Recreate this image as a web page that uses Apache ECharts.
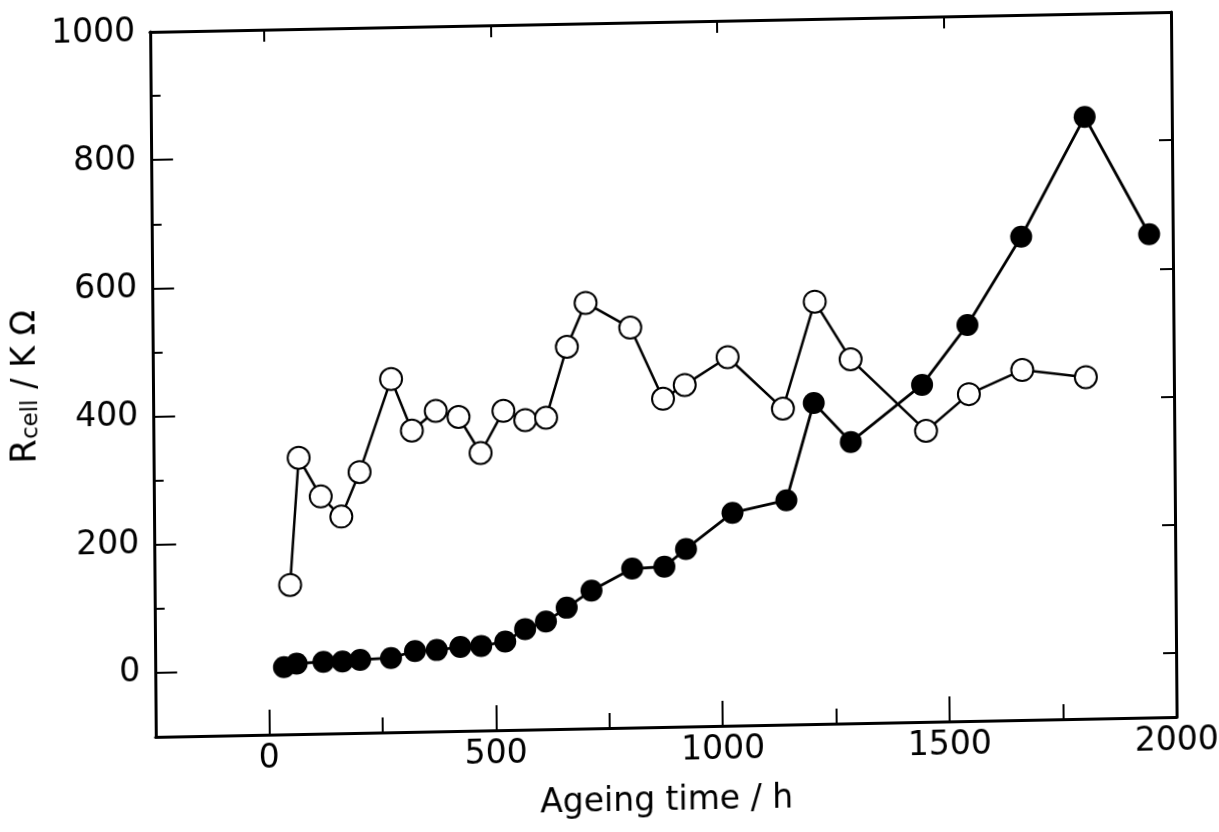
<!DOCTYPE html>
<html>
<head>
<meta charset="utf-8">
<script src="https://cdn.jsdelivr.net/npm/echarts@6/dist/echarts.min.js"></script>
<style>
  html, body { margin: 0; padding: 0; background: #fff; overflow: hidden; }
  /* the scanned figure is slightly skewed: horizontal lines rise ~1.1 deg, vertical lines lean ~0.5 deg */
  #c { width: 1219px; height: 832px; transform: matrix(1, -0.0195, 0.008, 1, 0, 0); transform-origin: 661px 375px; }
</style>
</head>
<body>
<div id="c"></div>
<script>
// Filled circles: ageing time (h) and R_cell (kΩ)
const timeFilled = [34, 62, 121, 163, 202, 270, 323, 371, 423, 469, 522, 566, 612, 658, 713, 803, 874, 922, 1025, 1144, 1206, 1287, 1445, 1546, 1666, 1808, 1948];
const rFilled    = [5, 10, 12, 12, 14, 16, 26, 27, 31, 32, 38, 57, 68, 89, 115, 148, 150, 177, 232, 250, 401, 339, 426, 518, 654, 839, 654];
// Open circles
const timeOpen = [49, 70, 118, 163, 204, 275, 320, 373, 423, 471, 522, 570, 616, 663, 705, 803, 874, 922, 1017, 1138, 1210, 1288, 1453, 1548, 1666, 1806];
const rOpen    = [133, 331, 270, 238, 307, 451, 370, 400, 390, 333, 398, 383, 386, 496, 564, 524, 412, 433, 475, 393, 559, 468, 354, 410, 446, 433];
// Tick labels
const xLabels = [0, 500, 1000, 1500, 2000];
const yLabels = [0, 200, 400, 600, 800, 1000];
const xMajorTicks = [0, 500, 1000, 1500];
const xMinorTicks = [250, 750, 1250, 1750];
const yMajorTicks = [0, 200, 400, 600, 800];
const yMinorTicks = [100, 300, 500, 700, 900];

const FONT = 'DejaVu Sans';
const BLACK = '#000';
const xMin = -250, xMax = 2000, yMin = -100, yMax = 1000;

const chart = echarts.init(document.getElementById('c'), null, { renderer: 'canvas' });

function blankX(pos, ticks, len, showLine) {
  return {
    type: 'value', position: pos, min: xMin, max: xMax,
    axisLine: { show: showLine, onZero: false, lineStyle: { color: BLACK, width: 3 } },
    axisTick: { show: true, inside: true, length: len, customValues: ticks, lineStyle: { color: BLACK, width: 2 } },
    axisLabel: { show: false },
    splitLine: { show: false }
  };
}
function blankY(pos, ticks, len, showLine) {
  return {
    type: 'value', position: pos, min: yMin, max: yMax,
    axisLine: { show: showLine, onZero: false, lineStyle: { color: BLACK, width: 3 } },
    axisTick: { show: true, inside: true, length: len, customValues: ticks, lineStyle: { color: BLACK, width: 2 } },
    axisLabel: { show: false },
    splitLine: { show: false }
  };
}
const plain = v => String(v);

const option = {
  animation: false,
  backgroundColor: '#fff',
  grid: { left: 147, right: 43, top: 22, bottom: 105, containLabel: false },
  xAxis: [
    {
      type: 'value', position: 'bottom', min: xMin, max: xMax,
      axisLine: { show: true, onZero: false, lineStyle: { color: BLACK, width: 3 } },
      axisTick: { show: true, inside: true, length: 25, customValues: xMajorTicks, lineStyle: { color: BLACK, width: 2 } },
      axisLabel: { show: true, customValues: xLabels, formatter: plain, fontSize: 33, fontFamily: FONT, color: BLACK, margin: 8 },
      splitLine: { show: false },
      name: 'Ageing time / h', nameLocation: 'middle', nameGap: 58,
      nameTextStyle: { fontSize: 33, fontFamily: FONT, color: BLACK }
    },
    blankX('bottom', xMinorTicks, 15, false),
    blankX('top', xMajorTicks, 12, true)
  ],
  yAxis: [
    {
      type: 'value', position: 'left', min: yMin, max: yMax,
      axisLine: { show: true, onZero: false, lineStyle: { color: BLACK, width: 3 } },
      axisTick: { show: true, inside: true, length: 22, customValues: yMajorTicks, lineStyle: { color: BLACK, width: 2 } },
      axisLabel: { show: true, customValues: yLabels, formatter: plain, fontSize: 33, fontFamily: FONT, color: BLACK, margin: 15 },
      splitLine: { show: false },
      name: '{r|R}{s|cell}{t| / K Ω}', nameLocation: 'middle', nameGap: 100, nameRotate: 90,
      nameTextStyle: {
        fontFamily: FONT, color: BLACK,
        rich: {
          r: { fontSize: 35, fontFamily: FONT, color: BLACK, lineHeight: 40, verticalAlign: 'bottom' },
          s: { fontSize: 23, fontFamily: FONT, color: BLACK, lineHeight: 30, verticalAlign: 'bottom' },
          t: { fontSize: 33, fontFamily: FONT, color: BLACK, lineHeight: 40, verticalAlign: 'bottom' }
        }
      }
    },
    blankY('left', yMinorTicks, 10, false),
    blankY('right', yMajorTicks, 13, true)
  ],
  series: [
    {
      name: 'open', type: 'line', xAxisIndex: 0, yAxisIndex: 0,
      data: timeOpen.map((t, i) => [t, rOpen[i]]),
      symbol: 'circle', symbolSize: 22, showAllSymbol: true,
      lineStyle: { color: BLACK, width: 2.5 },
      itemStyle: { color: '#fff', borderColor: BLACK, borderWidth: 2 },
      z: 3
    },
    {
      name: 'filled', type: 'line', xAxisIndex: 0, yAxisIndex: 0,
      data: timeFilled.map((t, i) => [t, rFilled[i]]),
      symbol: 'circle', symbolSize: 22, showAllSymbol: true,
      lineStyle: { color: BLACK, width: 2.8 },
      itemStyle: { color: BLACK, borderColor: BLACK, borderWidth: 0 },
      z: 4
    }
  ]
};
chart.setOption(option);
</script>
</body>
</html>
